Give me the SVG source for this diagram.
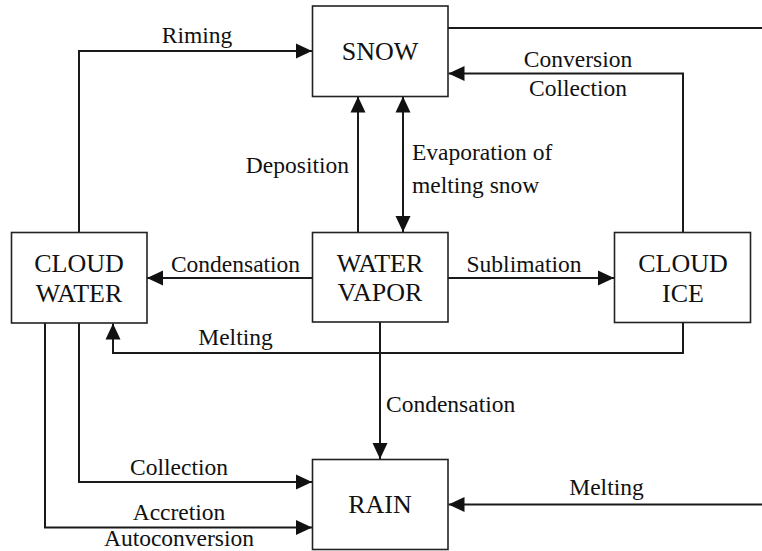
<svg xmlns="http://www.w3.org/2000/svg" width="762" height="551" viewBox="0 0 762 551">
<defs>
<marker id="ah" markerUnits="userSpaceOnUse" markerWidth="16" markerHeight="16" viewBox="0 0 16 16" refX="16" refY="8" orient="auto-start-reverse">
<path d="M0,0.5 L16,8 L0,15.5 Z" fill="#111"/>
</marker>
</defs>
<style>
text{font-family:"Liberation Serif","DejaVu Serif","Noto Serif",Times,serif}
.box{fill:#fff;stroke:#222;stroke-width:1.6}
.n{font-size:26px;fill:#111;text-anchor:middle}
.l{font-size:23.5px;fill:#111}
.c{fill:none;stroke:#1a1a1a;stroke-width:2}
.a{marker-end:url(#ah)}
</style>
<rect width="762" height="551" fill="#fff"/>
<g id="connectors">
<path class="c" d="M448,28 H762"/>
<path class="c a" d="M79,233 V51 H312"/>
<path class="c a" d="M683,233 V73.5 H448.5"/>
<path class="c a" d="M358,232 V96.5"/>
<path class="c a" d="M403,96.5 V232" style="marker-start:url(#ah)"/>
<path class="c a" d="M312,278 H147"/>
<path class="c a" d="M448,278 H614"/>
<path class="c a" d="M683,323 V353 H113 V323.5"/>
<path class="c a" d="M380,322 V459"/>
<path class="c a" d="M79,323 V482 H312"/>
<path class="c a" d="M45,323 V527.5 H312"/>
<path class="c a" d="M762,504.5 H448.5"/>
</g>
<g id="labels">
<text class="l" x="197" y="43" text-anchor="middle">Riming</text>
<text class="l" x="578" y="67" text-anchor="middle">Conversion</text>
<text class="l" x="578" y="96" text-anchor="middle">Collection</text>
<text class="l" x="349" y="173" text-anchor="end">Deposition</text>
<text class="l" x="412" y="160">Evaporation of</text>
<text class="l" x="412" y="193">melting snow</text>
<text class="l" x="235.5" y="272" text-anchor="middle">Condensation</text>
<text class="l" x="524" y="272" text-anchor="middle">Sublimation</text>
<text class="l" x="235.5" y="345" text-anchor="middle">Melting</text>
<text class="l" x="386" y="412">Condensation</text>
<text class="l" x="179" y="475" text-anchor="middle">Collection</text>
<text class="l" x="179" y="520" text-anchor="middle">Accretion</text>
<text class="l" x="179" y="546" text-anchor="middle">Autoconversion</text>
<text class="l" x="606.5" y="495" text-anchor="middle">Melting</text>
</g>
<g id="snow">
<rect class="box" x="312.5" y="6" width="135.5" height="90.5"/>
<text class="n" x="380" y="60">SNOW</text>
</g>
<g id="cloud-water">
<rect class="box" x="11.5" y="232.5" width="135.5" height="90.5"/>
<text class="n" x="79" y="272">CLOUD</text>
<text class="n" x="79" y="302">WATER</text>
</g>
<g id="water-vapor">
<rect class="box" x="312.5" y="232.5" width="135.5" height="89.5"/>
<text class="n" x="380" y="272">WATER</text>
<text class="n" x="380" y="301">VAPOR</text>
</g>
<g id="cloud-ice">
<rect class="box" x="614.5" y="232.5" width="136" height="90"/>
<text class="n" x="683" y="272">CLOUD</text>
<text class="n" x="683" y="302">ICE</text>
</g>
<g id="rain">
<rect class="box" x="312.5" y="459.5" width="135.5" height="90"/>
<text class="n" x="380" y="513">RAIN</text>
</g>
</svg>
